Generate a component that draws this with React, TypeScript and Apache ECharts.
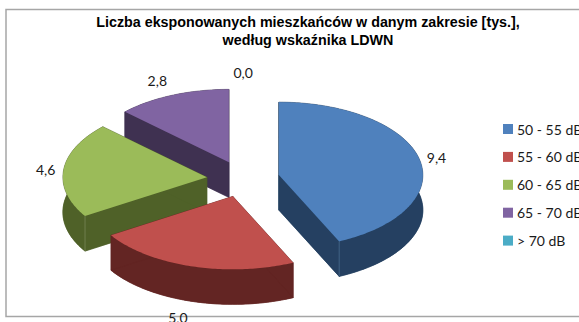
import React, { useEffect, useRef } from "react";
import * as echarts from "echarts";

const TITLE = "Liczba eksponowanych mieszkańców w danym zakresie [tys.],\nwedług wskaźnika LDWN";
const categories = ["50 - 55 dB", "55 - 60 dB", "60 - 65 dB", "65 - 70 dB", "> 70 dB"];
const values = [9.4, 5.0, 4.6, 2.8, 0.0];
const topColors = ["#4F81BD", "#C0504D", "#9BBB59", "#8064A2", "#4BACC6"];
const sideColors = ["#254061", "#632523", "#4F6128", "#3F3151", "#215968"];
const edgeColors = ["#4A6B8F", "#8A4F4D", "#7A8A5A", "#6A5A80", "#4A8A9A"];
const labelNudges = [[17, -2], [-14, 51], [-18, 0], [-15, -15], [0, -15]];

const CX = 243.2, CY = 179, RX = 144, RY = 73, DEPTH = 35, EXPLODE = 0.2535, EXPLODE_Y = 0.248;
const total = values.reduce((a, b) => a + b, 0);
const fmt = (v: number) => v.toFixed(1).replace(".", ",");
const rad = (d: number) => (d * Math.PI) / 180;

function startAngle(i: number) {
  let sum = 0;
  for (let k = 0; k < i; k++) sum += values[k];
  return (sum / total) * 360;
}

function makeRenderItem(i: number) {
  return (_params: any, api: any) => {
    const value = api.value(0);
    const t0 = startAngle(i);
    const t1 = t0 + (value / total) * 360;
    const mid = rad((t0 + t1) / 2);
    const ax = CX + EXPLODE * RX * Math.sin(mid);
    const ay = CY - EXPLODE_Y * RY * Math.cos(mid);
    const pt = (deg: number, dz = 0): number[] => [
      ax + RX * Math.sin(rad(deg)),
      ay - RY * Math.cos(rad(deg)) + dz,
    ];
    const children: any[] = [];
    const lx = ax + RX * Math.sin(mid) + labelNudges[i][0];
    const ly = ay - RY * Math.cos(mid) + labelNudges[i][1];
    if (value > 0) {
      const arc: number[][] = [];
      const n = Math.max(2, Math.ceil(t1 - t0));
      for (let k = 0; k <= n; k++) arc.push(pt(t0 + ((t1 - t0) * k) / n));
      const arcLow = arc.map((p) => [p[0], p[1] + DEPTH]);
      const side = { fill: sideColors[i], stroke: sideColors[i], lineWidth: 0.5 };
      const apex = [ax, ay];
      const apexLow = [ax, ay + DEPTH];
      children.push({ type: "polygon", shape: { points: [apexLow, ...arcLow] }, style: side });
      children.push({ type: "polygon", shape: { points: [...arc, ...arcLow.slice().reverse()] }, style: side });
      children.push({ type: "polygon", shape: { points: [apex, arc[0], arcLow[0], apexLow] }, style: side });
      children.push({ type: "polygon", shape: { points: [apex, arc[n], arcLow[n], apexLow] }, style: side });
      // thin lighter line at a corner where the radial wall meets the visible outer wall
      const corners: number[] = [];
      if (Math.sin(rad(t1)) > 0.01 && Math.cos(rad(t1)) < 0) corners.push(t1);
      if (Math.sin(rad(t0)) < -0.01 && Math.cos(rad(t0)) < 0) corners.push(t0);
      corners.forEach((c) => {
        const a = pt(c);
        children.push({
          type: "line",
          shape: { x1: a[0], y1: a[1], x2: a[0], y2: a[1] + DEPTH },
          style: { stroke: edgeColors[i], lineWidth: 0.8 },
        });
      });
      children.push({ type: "polygon", shape: { points: [apex, ...arc] }, style: { fill: topColors[i] } });
    }
    children.push({
      type: "text",
      x: lx,
      y: ly,
      z2: 50,
      style: {
        text: fmt(value),
        font: '14px Lato, sans-serif',
        fill: "#1a1a1a",
        align: "center",
        verticalAlign: "middle",
      },
    });
    return { type: "group", children };
  };
}

export default function App() {
  const ref = useRef<HTMLDivElement>(null);
  useEffect(() => {
    document.body.style.margin = "0";
    document.body.style.overflow = "hidden";
    const chart = echarts.init(ref.current!, null, { renderer: "svg" });
    const order = categories.map((_, i) => categories.length - 1 - i);
    chart.setOption({
      animation: false,
      backgroundColor: "#ffffff",
      title: {
        text: TITLE,
        left: 303,
        top: 8,
        textAlign: "center",
        textStyle: { fontFamily: "Liberation Sans", fontSize: 14.3, fontWeight: "bold", color: "#000000", lineHeight: 18 },
      },
      legend: {
        data: categories,
        orient: "vertical",
        left: 503,
        top: 122,
        itemWidth: 10,
        itemHeight: 10,
        itemGap: 13.9,
        icon: "rect",
        padding: 0,
        textStyle: { fontFamily: "Lato", fontSize: 14, color: "#1a1a1a", padding: [0, 0, 0, -1] },
      },
      graphic: {
        elements: [
          {
            type: "rect",
            z: 0,
            shape: { x: 6, y: 9.5, width: 640, height: 307 },
            style: { fill: "#ffffff", stroke: "#A6A6A6", lineWidth: 1.5 },
          },
        ],
      },
      series: order.map((i) => ({
        type: "custom",
        name: categories[i],
        coordinateSystem: "none",
        itemStyle: { color: topColors[i] },
        data: [values[i]],
        renderItem: makeRenderItem(i),
      })),
    });
    return () => chart.dispose();
  }, []);
  return <div ref={ref} style={{ width: 579, height: 322 }} />;
}
